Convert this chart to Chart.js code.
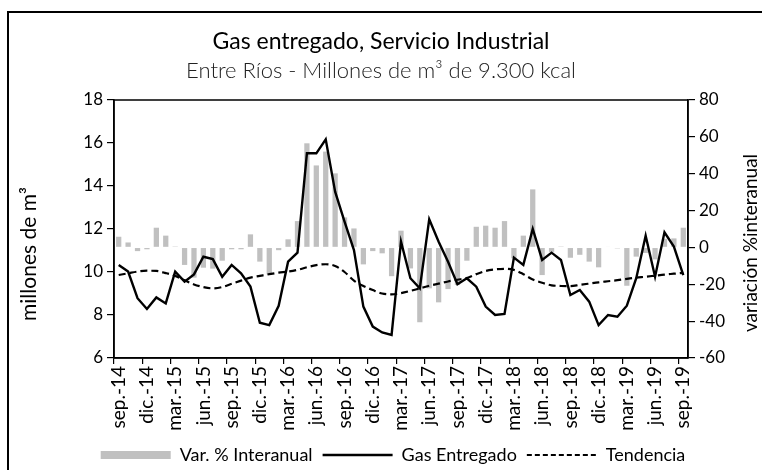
<!DOCTYPE html>
<html>
<head>
<meta charset="utf-8">
<script src="https://cdn.jsdelivr.net/npm/chart.js@4.4.1/dist/chart.umd.min.js"></script>
<style>
  html, body { margin: 0; padding: 0; background: #fff; }
  #wrap { width: 762px; height: 470px; position: relative; }
</style>
</head>
<body>
<div id="wrap"><canvas id="c" width="762" height="470"></canvas></div>
<script>
const FONT = 'Lato';

const categories = [
  'sep.-14','oct.-14','nov.-14','dic.-14','ene.-15','feb.-15','mar.-15','abr.-15','may.-15','jun.-15','jul.-15','ago.-15',
  'sep.-15','oct.-15','nov.-15','dic.-15','ene.-16','feb.-16','mar.-16','abr.-16','may.-16','jun.-16','jul.-16','ago.-16',
  'sep.-16','oct.-16','nov.-16','dic.-16','ene.-17','feb.-17','mar.-17','abr.-17','may.-17','jun.-17','jul.-17','ago.-17',
  'sep.-17','oct.-17','nov.-17','dic.-17','ene.-18','feb.-18','mar.-18','abr.-18','may.-18','jun.-18','jul.-18','ago.-18',
  'sep.-18','oct.-18','nov.-18','dic.-18','ene.-19','feb.-19','mar.-19','abr.-19','may.-19','jun.-19','jul.-19','ago.-19',
  'sep.-19'
];

const varInteranual = [
  5.8, 2.7, -2.0, -1.0, 10.7, 6.4, 0.5, -9.5, -16.4, -11.0, -11.5, -7.2,
  -1.0, -1.0, 7.1, -7.7, -14.6, -1.5, 4.4, 14.3, 56.5, 44.5, 52.0, 40.2,
  16.3, 10.3, -9.2, -2.0, -3.2, -15.6, 9.1, -11.4, -40.6, -22.2, -29.8, -22.6,
  -20.4, -7.2, 11.2, 11.8, 10.7, 14.3, -5.9, 6.4, 31.5, -15.0, -2.4, 0.5,
  -5.6, -4.0, -7.7, -10.8, 0.3, -0.5, -20.8, -5.0, -3.0, -6.5, 4.7, 4.9,
  10.7
];

const gasEntregado = [
  10.33, 10.02, 8.78, 8.28, 8.82, 8.54, 10.02, 9.55, 9.89, 10.71, 10.60, 9.78,
  10.33, 9.94, 9.32, 7.64, 7.53, 8.43, 10.48, 10.90, 15.52, 15.52, 16.17, 13.74,
  12.34, 11.02, 8.39, 7.46, 7.19, 7.07, 11.41, 9.71, 9.24, 12.45, 11.41, 10.48,
  9.43, 9.71, 9.32, 8.39, 8.00, 8.05, 10.67, 10.33, 12.00, 10.56, 10.90, 10.56,
  8.93, 9.16, 8.62, 7.53, 8.00, 7.92, 8.43, 9.71, 11.69, 9.78, 11.85, 11.18,
  9.86
];

const tendencia = [
  9.86, 9.94, 10.02, 10.06, 10.05, 9.95, 9.82, 9.62, 9.42, 9.30, 9.24, 9.30,
  9.45, 9.60, 9.74, 9.82, 9.90, 9.97, 10.02, 10.10, 10.22, 10.32, 10.36, 10.28,
  10.00, 9.60, 9.35, 9.16, 9.00, 8.96, 9.02, 9.12, 9.24, 9.36, 9.46, 9.56,
  9.64, 9.72, 9.90, 10.05, 10.12, 10.15, 10.10, 9.90, 9.65, 9.50, 9.38, 9.35,
  9.34, 9.40, 9.46, 9.52, 9.57, 9.62, 9.68, 9.74, 9.78, 9.83, 9.88, 9.92,
  9.96
];

const leftTicks = [6, 8, 10, 12, 14, 16, 18];
const rightTicks = [-60, -40, -20, 0, 20, 40, 60, 80];

const titleText = 'Gas entregado, Servicio Industrial';
const subtitleText = 'Entre Ríos - Millones de m³ de 9.300 kcal';
const leftAxisTitle = 'millones de m³';
const rightAxisTitle = 'variación %interanual';
const seriesNames = ['Var. % Interanual', 'Gas Entregado', 'Tendencia'];

const decorPlugin = {
  id: 'decor',
  afterLayout(chart) {
    // shift the legend block so it is centred where the reference has it
    const lg = chart.legend;
    if (lg) { lg.left = 24; lg.right = 762; }
  },
  beforeDraw(chart) {
    const ctx = chart.ctx;
    ctx.save();
    ctx.fillStyle = '#fff';
    ctx.fillRect(0, 0, chart.width, chart.height);
    ctx.restore();
  },
  afterDraw(chart) {
    const ctx = chart.ctx;
    const a = chart.chartArea;
    ctx.save();
    ctx.strokeStyle = '#000';
    ctx.lineWidth = 2;
    ctx.strokeRect(8, 12, 780, 490);
    ctx.lineWidth = 1.5;
    ctx.strokeRect(a.left, a.top, a.right - a.left, a.bottom - a.top);
    ctx.fillStyle = '#000';
    ctx.font = '21px ' + FONT;
    ctx.textAlign = 'center';
    ctx.textBaseline = 'middle';
    ctx.translate(29, 254);
    ctx.rotate(-Math.PI / 2);
    ctx.fillText(leftAxisTitle, 0, 0);
    ctx.restore();
    ctx.save();
    ctx.fillStyle = '#000';
    ctx.font = '19px ' + FONT;
    ctx.textAlign = 'center';
    ctx.textBaseline = 'middle';
    ctx.translate(751, 243);
    ctx.rotate(-Math.PI / 2);
    ctx.fillText(rightAxisTitle, 0, 0);
    ctx.restore();
  }
};

new Chart(document.getElementById('c'), {
  data: {
    labels: categories,
    datasets: [
      {
        type: 'bar',
        label: seriesNames[0],
        data: varInteranual,
        yAxisID: 'y2',
        backgroundColor: '#c0c0c0',
        borderWidth: 0,
        barPercentage: 0.56,
        categoryPercentage: 1.0,
        order: 3
      },
      {
        type: 'line',
        label: seriesNames[1],
        data: gasEntregado,
        yAxisID: 'y',
        borderColor: '#000',
        backgroundColor: '#000',
        borderWidth: 2.4,
        pointRadius: 0,
        tension: 0,
        order: 1
      },
      {
        type: 'line',
        label: seriesNames[2],
        data: tendencia,
        yAxisID: 'y',
        borderColor: '#000',
        backgroundColor: '#000',
        borderWidth: 2.2,
        borderDash: [7, 4],
        pointRadius: 0,
        cubicInterpolationMode: 'monotone',
        order: 2
      }
    ]
  },
  options: {
    responsive: false,
    animation: false,
    devicePixelRatio: 1,
    layout: { padding: { left: 0, right: 0, top: 0, bottom: 0 } },
    plugins: {
      tooltip: { enabled: false },
      title: {
        display: true,
        text: titleText,
        color: '#000',
        font: { family: FONT, size: 23, weight: 'normal', lineHeight: 1.2 },
        padding: { top: 28, bottom: 0 }
      },
      subtitle: {
        display: true,
        text: subtitleText,
        color: '#222',
        font: { family: FONT, size: 22, weight: 300, lineHeight: 1.2 },
        padding: { top: 2, bottom: 16 }
      },
      legend: {
        display: true,
        position: 'bottom',
        maxHeight: 34,
        labels: {
          color: '#000',
          font: { family: FONT, size: 18 },
          usePointStyle: true,
          pointStyleWidth: 70,
          boxHeight: 8,
          padding: 10,
          generateLabels(chart) {
            return [
              { text: seriesNames[0], fillStyle: '#c0c0c0', strokeStyle: '#c0c0c0', lineWidth: 0, pointStyle: 'rect', datasetIndex: 0 },
              { text: seriesNames[1], fillStyle: '#000', strokeStyle: '#000', lineWidth: 2.4, pointStyle: 'line', datasetIndex: 1 },
              { text: seriesNames[2], fillStyle: '#000', strokeStyle: '#000', lineWidth: 2.2, lineDash: [5, 3], pointStyle: 'line', datasetIndex: 2 }
            ];
          }
        }
      }
    },
    scales: {
      x: {
        type: 'category',
        offset: true,
        afterFit(scale) { scale.height = 78; },
        border: { display: true, color: '#000', width: 1.5 },
        grid: {
          offset: true,
          drawOnChartArea: false,
          drawTicks: true,
          tickLength: 6,
          color: (ctx) => (ctx.index % 3 === 0 ? '#000' : 'rgba(0,0,0,0)'),
          lineWidth: 1.2
        },
        ticks: {
          autoSkip: false,
          maxRotation: 90,
          minRotation: 90,
          padding: 2,
          color: '#000',
          font: { family: FONT, size: 19 },
          callback: (v, i) => (i % 3 === 0 ? categories[i] : '')
        }
      },
      y: {
        position: 'left',
        min: leftTicks[0],
        max: leftTicks[leftTicks.length - 1],
        afterFit(scale) { scale.width = 114; },
        afterBuildTicks(scale) { scale.ticks = leftTicks.map(v => ({ value: v })); },
        border: { display: true, color: '#000', width: 1.5 },
        grid: { drawOnChartArea: false, tickLength: 7, color: '#000', lineWidth: 1.2 },
        ticks: {
          padding: 4,
          color: '#000',
          font: { family: FONT, size: 17 }
        }
      },
      y2: {
        position: 'right',
        min: rightTicks[0],
        max: rightTicks[rightTicks.length - 1],
        afterFit(scale) { scale.width = 762 - 688; },
        afterBuildTicks(scale) { scale.ticks = rightTicks.map(v => ({ value: v })); },
        border: { display: true, color: '#000', width: 1.5 },
        grid: { drawOnChartArea: false, tickLength: 7, color: '#000', lineWidth: 1.2 },
        ticks: {
          padding: 4,
          color: '#000',
          font: { family: FONT, size: 17 }
        }
      }
    }
  },
  plugins: [decorPlugin]
});
</script>
</body>
</html>
